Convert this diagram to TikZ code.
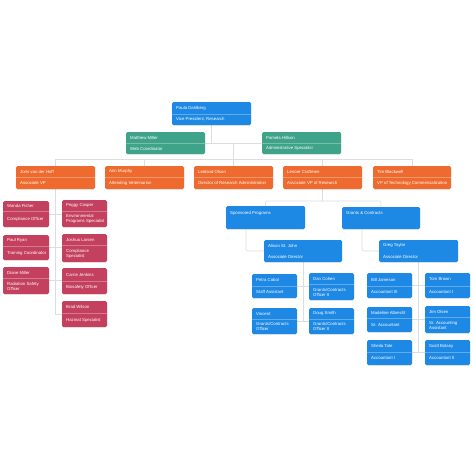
\documentclass[tikz,border=0pt]{standalone}
\usepackage{fontspec}
\setmainfont{Liberation Sans}
\usetikzlibrary{fit,backgrounds,shadows}
\definecolor{cblue}{HTML}{1E88E5}
\definecolor{cgreen}{HTML}{3FA389}
\definecolor{corange}{HTML}{EF6A2E}
\definecolor{cred}{HTML}{C4405F}
\definecolor{cline}{HTML}{DDDDDD}
% name, x1, y1, x2, y2, divider y, colour, title, subtitle
\newcommand{\obox}[9]{%
  \node[orgbox, fill=#7, fit={(#2,#3) (#4,#5)}] (#1) {};
  \draw[divline] (#2,#6) -- (#4,#6);
  \node[ttl] (#1-t) at (#2+4,{(#3+#6)/2}) {#8};
  \node[ttl] (#1-s) at (#2+4,{(#6+#5)/2}) {#9};
}
% box without divider: name, x1, y1, x2, y2, colour, title y, title, extra
\newcommand{\tbox}[9]{%
  \node[orgbox, fill=#6, fit={(#2,#3) (#4,#5)}] (#1) {};
  \node[ttl] (#1-t) at (#2+4,#7) {#8};
  #9
}
\begin{document}
\begin{tikzpicture}[x=1pt,y=-1pt,
  orgbox/.style={inner sep=0pt, rounded corners=1.5pt, draw=none,
    drop shadow={opacity=0.18, shadow xshift=0pt, shadow yshift=-0.6pt}},
  divline/.style={draw=white, draw opacity=0.3, line width=0.5pt},
  ttl/.style={anchor=west, inner sep=0pt, text=white, align=left,
    font=\fontsize{4.3}{5}\selectfont},
  conn/.style={draw=cline, line width=0.55pt}]
\useasboundingbox (0,0) rectangle (474,474);

% top
\obox{paula}{172}{102}{251}{125}{114}{cblue}{Paula Dahlberg}{Vice President, Research}
\obox{matthew}{126}{132}{205}{154}{143}{cgreen}{Matthew Miller}{Web Coordinator}
\obox{pamela}{262}{132}{341}{154}{143}{cgreen}{Pamela Hillson}{Administrative Specialist}

% orange row
\obox{joris}{16}{166}{95}{189}{177}{corange}{Joris van der Hoff}{Associate VP}
\obox{ann}{105}{166}{184}{189}{177}{corange}{Ann Murphy}{Attending Veterinarian}
\obox{leoland}{194}{166}{273}{189}{177}{corange}{Leoland Olson}{Director of Research Administration}
\obox{lenore}{283}{166}{362}{189}{177}{corange}{Lenore Craftmen}{Associate VP of Research}
\obox{tim}{373}{166}{451}{189}{177}{corange}{Tim Blackwell}{VP of Technology Commercialization}

% red columns
\obox{wanda}{3}{201}{49}{227}{211}{cred}{Wanda Fisher}{Compliance Officer}
\obox{paul}{3}{235}{49}{260}{246}{cred}{Paul Ryan}{Training Coordinator}
\obox{diane}{3}{267}{49}{294}{278}{cred}{Diane Miller}{Radiation Safety\\Officer}
\obox{peggy}{62}{200}{107}{227}{211}{cred}{Peggy Casper}{Environmental\\Programs Specialist}
\obox{joshua}{62}{234}{107}{262}{245}{cred}{Joshua Larsen}{Compliance\\Specialist}
\obox{carrie}{62}{268}{107}{294}{281}{cred}{Carrie Jenkins}{Biosafety Officer}
\obox{brad}{62}{301}{107}{327}{313}{cred}{Brad Wilson}{Hazmat Specialist}

% departments
\tbox{sponsored}{226}{206}{305}{229}{cblue}{213}{Sponsored Programs}{}
\tbox{grants}{342}{207}{420}{229}{cblue}{213}{Grants \& Contracts}{}
\tbox{alison}{264}{240}{342}{262}{cblue}{245.5}{Alison St. John}{\node[ttl] (alison-s) at (268,256.5) {Associate Director};}
\tbox{greg}{379}{240}{458}{262}{cblue}{245.5}{Greg Taylor}{\node[ttl] (greg-s) at (383,256.5) {Associate Director};}

% Alison team
\obox{petra}{252}{274}{297}{298}{286}{cblue}{Petra Cobol}{Staff Assistant}
\obox{dan}{309}{273}{354}{300}{284}{cblue}{Dan Cohen}{Grants/Contracts\\Officer II}
\obox{vincent}{252}{308}{297}{334}{319}{cblue}{Vincent}{Grants/Contracts\\Officer}
\obox{doug}{309}{308}{354}{334}{319}{cblue}{Doug Smith}{Grants/Contracts\\Officer II}

% Greg team
\obox{bill}{367}{273}{412}{298}{286}{cblue}{Bill Jameson}{Accountant III}
\obox{tom}{425}{273}{470}{298}{286}{cblue}{Tom Brown}{Accountant I}
\obox{madeline}{367}{307}{412}{332}{318}{cblue}{Madeline Albrecht}{Sr. Accountant}
\obox{jim}{425}{306}{470}{333}{317}{cblue}{Jim Olsen}{Sr. Accounting\\Assistant}
\obox{sheila}{367}{340}{412}{365}{352}{cblue}{Sheila Tate}{Accountant I}
\obox{scott}{425}{340}{470}{365}{352}{cblue}{Scott Bolany}{Accountant II}

\begin{scope}[on background layer]
  \fill[white] (0,0) rectangle (474,474);
  \coordinate (abus) at (0,143);
  \coordinate (bus) at (0,159);
  \coordinate (lbus) at (0,201);
  % top
  \draw[conn] (paula.south) -- (paula.south |- abus);
  \draw[conn] (matthew.east) -- (pamela.west);
  \draw[conn] (leoland.north |- abus) -- (leoland.north);
  \draw[conn] (joris.north |- bus) -- (tim.north |- bus);
  \foreach \n in {joris,ann,lenore,tim}
    \draw[conn] (\n.north |- bus) -- (\n.north);
  % Joris team
  \draw[conn] (joris.south) -- (joris.south |- brad.west) -- (brad.west);
  \draw[conn] (wanda.east) -- (wanda.east -| peggy.west);
  \draw[conn] (paul.east) -- (paul.east -| joshua.west);
  \draw[conn] (diane.east) -- (diane.east -| carrie.west);
  % Lenore
  \draw[conn] (lenore.south) -- (lenore.south |- lbus);
  \draw[conn, rounded corners=2pt] (sponsored.north) -- (sponsored.north |- lbus) -- (grants.north |- lbus) -- (grants.north);
  \draw[conn, rounded corners=2pt] ([xshift=-19.5pt]sponsored.south) |- (alison.west);
  \draw[conn, rounded corners=2pt] ([xshift=-19pt]grants.south) |- (greg.west);
  % Alison team
  \draw[conn] (alison.south) -- (alison.south |- vincent.east);
  \draw[conn] (petra.east) -- (petra.east -| dan.west);
  \draw[conn] (vincent.east) -- (vincent.east -| doug.west);
  % Greg team
  \draw[conn] (greg.south) -- (greg.south |- sheila.east);
  \draw[conn] (bill.east) -- (bill.east -| tom.west);
  \draw[conn] (madeline.east) -- (madeline.east -| jim.west);
  \draw[conn] (sheila.east) -- (sheila.east -| scott.west);
\end{scope}
\end{tikzpicture}
\end{document}
